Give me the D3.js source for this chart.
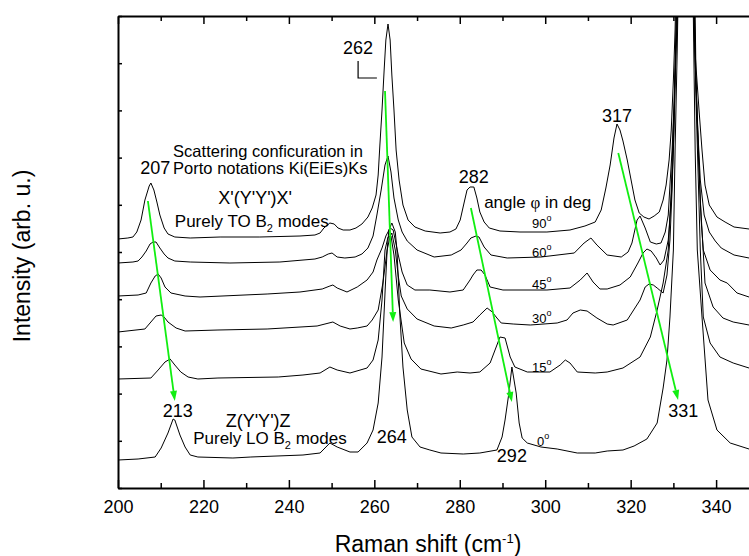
<!DOCTYPE html>
<html>
<head>
<meta charset="utf-8">
<script src="https://cdn.jsdelivr.net/npm/d3@7"></script>
<style>
body { margin: 0; background: #fff; }
text { font-family: "Liberation Sans", Arial, sans-serif; fill: #000; }
</style>
</head>
<body>
<script>
// Raman spectra, stacked, one per angle phi (deg). [shift cm-1, intensity arb. u. incl. offset]
const angles = ["90", "60", "45", "30", "15", "0"];

const spec90 = [[200,249],[202.3,250],[203.5,251],[204.4,256],[205.4,268],[206.3,288],[207.3,302],[207.7,305],[208.4,298],[209.1,286],[209.8,273],[210.8,260],[211.7,254],[213.3,251],[216.9,250],[223.9,251],[233.2,251],[242.6,252],[246.1,253],[247.3,255],[248.2,260],[249.6,265],[250.6,264],[251.5,260],[252.7,258],[254.3,258],[255.7,260],[257.1,264],[258.5,271],[259.5,280],[260.4,293],[260.9,313],[261.3,343],[261.8,378],[262.3,418],[262.7,448],[263.2,464],[263.7,448],[264.1,413],[264.6,378],[265.1,338],[265.8,308],[266.7,283],[267.9,268],[269.5,261],[271.9,257],[275.4,255],[277.7,256],[279.1,259],[280.1,268],[281,285],[281.7,298],[282.4,301],[283.3,301],[284,290],[284.7,276],[285.7,266],[286.9,260],[289.4,257],[294.1,256],[300.4,256],[305.8,258],[309.3,262],[311.7,266],[313.1,278],[314.2,300],[315.2,323],[316.1,350],[316.8,364],[317.5,358],[318.2,347],[319.2,328],[320.1,308],[321,288],[322,275],[323.1,271],[324.3,269],[325.5,272],[326.7,276],[327.6,288],[328.3,303],[329,328],[329.5,358],[330,408],[330.4,458],[331.3,638],[332.7,738],[334.1,638],[334.9,448],[335.3,421],[336,378],[336.7,338],[337.4,303],[338.4,283],[340.2,271],[342.1,266],[344.2,261],[347.7,259]];

const spec60 = [[200,225],[203.5,226],[204.7,227],[205.6,231],[206.6,237],[207.5,244],[208.2,246],[208.9,246],[209.8,240],[210.8,234],[211.7,230],[213.3,227],[216.9,226],[226.2,225],[237.9,226],[246.1,229],[247.8,231],[249.2,234],[250.1,235],[251.3,231],[253.1,230],[255.5,231],[257.1,234],[258.5,240],[259.7,252],[260.6,273],[261.6,298],[262.5,323],[263.2,332],[263.9,316],[264.6,290],[265.6,268],[266.5,256],[267.7,247],[270,238],[274,231],[278,233],[280.3,238],[281.7,245],[282.6,250],[283.8,252],[284.5,251],[285.7,241],[287.3,233],[291.1,230],[299,231],[306.8,235],[309.1,245],[310.7,250],[312.1,243],[314.5,233],[317.8,231],[319.4,236],[320.3,245],[321.5,268],[322.2,272],[323.4,260],[324.6,246],[326,244],[327.1,245],[328.1,256],[328.8,273],[329.2,303],[329.7,338],[330.2,388],[330.6,448],[331.5,638],[332.9,738],[334.3,638],[335.1,428],[335.6,368],[336.3,308],[337.2,273],[338.4,256],[339.8,247],[341.2,240],[344.2,233],[347.7,230]];

const spec45 = [[200,192],[204.7,193],[206.6,195],[207.7,205],[208.7,212],[209.4,214],[210.1,210],[211,201],[212.4,195],[215.7,192],[219.2,191],[234.9,194],[242.6,196],[247.8,199],[249.6,202],[250.3,203],[251.3,200],[253.6,196],[256,201],[258.3,208],[259.7,216],[260.6,228],[261.8,240],[262.7,252],[263.7,260],[264.4,258],[264.9,248],[265.6,233],[266.5,216],[267.7,203],[269.5,198],[273,198],[277.7,196],[280.8,198],[282.4,208],[283.1,213],[284,218],[285,218],[285.9,213],[287.1,201],[290.1,198],[300.4,198],[305.8,200],[308.2,208],[309.8,215],[311.2,206],[312.8,199],[314.5,199],[317.5,203],[319.9,211],[321.7,225],[322.9,235],[323.8,239],[324.8,237],[326,230],[326.9,223],[327.8,228],[328.8,248],[329.5,288],[330,338],[330.4,408],[330.9,472],[331.8,638],[332.9,738],[334.3,638],[335.1,428],[335.8,338],[336.5,268],[337,238],[338.6,218],[340.9,208],[342.6,205],[344.9,195],[347.7,191]];

const spec30 = [[200,156],[206.3,159],[207.7,166],[208.9,172],[210.1,173],[210.8,171],[211.7,166],[213.6,160],[215.7,157],[223.4,158],[234.9,159],[246.6,162],[250.3,166],[252,162],[254.3,159],[256,160],[258.3,162],[259.5,168],[260.9,178],[262,205],[263,238],[263.7,252],[264.1,255],[264.9,238],[265.6,212],[266.3,192],[267.7,179],[270,169],[274,162],[278,160],[280.8,163],[283.1,166],[284.7,173],[286.4,180],[287.6,176],[288.7,170],[289.7,165],[292.5,164],[296.5,163],[302.8,165],[305.1,168],[306.5,175],[308.2,178],[309.8,177],[312.1,170],[314.5,164],[315.9,163],[319.2,168],[322.2,188],[323.4,201],[324.3,204],[325.3,203],[326.2,200],[327.6,195],[328.5,213],[329.2,248],[329.7,298],[330.2,368],[330.6,438],[331.1,488],[332,638],[333.2,738],[334.6,638],[335.3,408],[336.3,288],[337.4,205],[339.3,181],[341.6,170],[344,166],[347.7,163]];

const spec15 = [[200,109],[207.7,110],[209.4,118],[211,126],[212.2,129],[213.3,123],[214.7,116],[216.4,111],[218.7,109],[223.4,110],[237.5,111],[243.3,113],[247.3,115],[249.6,121],[251.3,118],[254.3,115],[258.3,120],[259.7,128],[260.9,148],[261.8,188],[262.5,238],[263.2,251],[263.9,252],[264.6,233],[265.6,188],[267,145],[268.6,129],[270.9,119],[275.6,114],[279.4,116],[282.4,115],[284.7,116],[287.1,125],[288.7,143],[289.4,151],[290.6,150],[291.8,131],[292.9,121],[295.8,116],[301.1,116],[303.5,123],[304.7,128],[305.8,125],[307.5,116],[311.7,115],[314.5,116],[318.2,120],[322.2,131],[324.6,151],[326.2,178],[327.6,205],[328.8,238],[329.5,298],[330.2,388],[330.6,458],[331.3,588],[332.7,738],[334.3,588],[335.3,388],[336.3,238],[337,171],[338.6,145],[340.9,131],[344,125],[347.7,120]];

const spec0 = [[200,28],[204.7,29],[208.7,31],[210.1,40],[211.7,55],[212.9,69],[213.3,68],[214.5,53],[215.7,41],[216.9,33],[218.7,31],[226.9,30],[231.1,31],[243.3,33],[247.3,35],[249.6,45],[251.3,41],[254.3,36],[256.2,36],[258.3,45],[259.7,58],[260.9,85],[261.8,131],[262.5,195],[263,238],[263.4,258],[264.1,265],[264.9,256],[265.3,238],[266,171],[266.7,121],[267.7,78],[268.8,51],[270.7,41],[273,38],[275.6,35],[280.8,34],[284.7,35],[288.7,38],[289.9,51],[290.6,68],[291.5,95],[292.2,121],[293.2,95],[293.9,65],[294.6,50],[295.8,45],[299,41],[302.8,39],[307.5,35],[311.7,35],[314.5,37],[318.2,38],[320.8,42],[323.8,49],[326.2,65],[327.6,100],[328.5,128],[329.2,171],[330,238],[330.4,338],[330.9,438],[331.5,588],[332.9,738],[334.3,588],[335.1,338],[335.6,238],[336.7,171],[338.1,88],[340.2,58],[343.3,45],[347.7,39]];

const spectra = [spec90, spec60, spec45, spec30, spec15, spec0];

const xTicks = [200, 220, 240, 260, 280, 300, 320, 340];
const xMinorTicks = [210, 230, 250, 270, 290, 310, 330];
const yTicks = [0, 47.2, 94.4, 141.6, 188.8, 236, 283.2, 330.4, 377.6, 424.8, 472];

// peak positions: label, shift, intensity where the label sits
const peakLabels = [["207", 208.7, 314], ["262", 256.2, 434], ["282", 283.3, 305], ["317", 316.8, 366],
                    ["213", 214.0, 71], ["264", 264.1, 45], ["292", 292.2, 26], ["331", 332.3, 71]];
// angle label positions: shift, intensity
const angleLabelPos = [[296.9, 260], [296.9, 231], [296.9, 199], [296.9, 165], [296.9, 116], [298.1, 42]];
// green arrows: peak shift from 90 deg to 0 deg
const shiftArrows = [[207.0, 287, 213.3, 87], [262.5, 397, 264.4, 166], [282.6, 280, 292.2, 86], [317.1, 335, 331.1, 88]];
const bracket262 = [[256.2, 427], [256.2, 410], [260.6, 410]];

const width = 749, height = 556;
const x = d3.scaleLinear().domain([200, 347.7]).range([118, 749]);
const y = d3.scaleLinear().domain([0, 472]).range([488, 16]);

const svg = d3.select("body").append("svg")
	.attr("width", width)
	.attr("height", height);

svg.append("defs").append("clipPath").attr("id", "plotclip")
	.append("rect")
	.attr("x", x(200)).attr("y", y(472))
	.attr("width", x(347.7) - x(200)).attr("height", y(0) - y(472));

// spectra
let line = d3.line().x(d => x(d[0])).y(d => y(d[1]));
svg.append("g").attr("clip-path", "url(#plotclip)")
	.selectAll("path")
	.data(spectra)
	.join("path")
	.attr("d", line)
	.attr("fill", "none")
	.attr("stroke", "#000")
	.attr("stroke-width", 1);

// axes
function styleAxis(g) {
	g.select(".domain").attr("stroke-width", 2);
	g.selectAll(".tick line").attr("stroke-width", 1.5);
}
let bottom = svg.append("g").attr("transform", `translate(0,${y(0)})`)
	.call(d3.axisBottom(x).tickValues(xTicks).tickSize(-8).tickSizeOuter(0).tickPadding(12))
	.call(styleAxis);
bottom.selectAll("text").attr("font-size", 18);
svg.append("g").attr("transform", `translate(0,${y(0)})`)
	.call(d3.axisBottom(x).tickValues(xMinorTicks).tickSize(-5).tickSizeOuter(0).tickFormat(""))
	.call(g => g.select(".domain").remove())
	.call(styleAxis);

svg.append("g").attr("transform", `translate(0,${y(472)})`)
	.call(d3.axisTop(x).tickValues(xTicks).tickSize(-8).tickSizeOuter(0).tickFormat(""))
	.call(styleAxis);
svg.append("g").attr("transform", `translate(0,${y(472)})`)
	.call(d3.axisTop(x).tickValues(xMinorTicks).tickSize(-5).tickSizeOuter(0).tickFormat(""))
	.call(g => g.select(".domain").remove())
	.call(styleAxis);

svg.append("g").attr("transform", `translate(${x(200)},0)`)
	.call(d3.axisLeft(y).tickValues(yTicks).tickSize(-4).tickSizeOuter(0).tickFormat(""))
	.call(styleAxis);

// axis titles
let xt = svg.append("text").attr("x", 428).attr("y", 552)
	.attr("text-anchor", "middle").attr("font-size", 23)
	.text("Raman shift (cm");
xt.append("tspan").attr("font-size", 13).attr("dy", -9).text("-1");
xt.append("tspan").attr("dy", 9).text(")");

svg.append("text")
	.attr("transform", "translate(30,256) rotate(-90)")
	.attr("text-anchor", "middle").attr("font-size", 23)
	.text("Intensity (arb. u.)");

// green arrows
let arrows = svg.append("g");
shiftArrows.forEach(a => {
	let x1 = x(a[0]), y1 = y(a[1]), x2 = x(a[2]), y2 = y(a[3]);
	let ang = Math.atan2(y2 - y1, x2 - x1);
	let len = 10, hw = 3.5;
	let bx = x2 - len * Math.cos(ang), by = y2 - len * Math.sin(ang);
	arrows.append("line")
		.attr("x1", x1).attr("y1", y1).attr("x2", bx).attr("y2", by)
		.attr("stroke", "#11ee11").attr("stroke-width", 1.8);
	arrows.append("path")
		.attr("d", `M${x2},${y2}L${bx - hw * Math.sin(ang)},${by + hw * Math.cos(ang)}L${bx + hw * Math.sin(ang)},${by - hw * Math.cos(ang)}Z`)
		.attr("fill", "#11ee11");
});

// bracket at 262
svg.append("path")
	.datum(bracket262)
	.attr("d", line)
	.attr("fill", "none").attr("stroke", "#000").attr("stroke-width", 1.2);

// peak labels
svg.selectAll(".peak")
	.data(peakLabels)
	.join("text")
	.attr("class", "peak")
	.attr("x", d => x(d[1])).attr("y", d => y(d[2]))
	.attr("text-anchor", "middle").attr("font-size", 18)
	.text(d => d[0]);

// angle labels
svg.selectAll(".ang")
	.data(angles)
	.join("text")
	.attr("class", "ang")
	.attr("x", (d, i) => x(angleLabelPos[i][0])).attr("y", (d, i) => y(angleLabelPos[i][1]))
	.attr("font-size", 13)
	.text(d => d)
	.append("tspan").attr("font-size", 9).attr("dy", -7).text("o");

// configuration notes
function note(xv, v, size, anchor) {
	return svg.append("text").attr("x", x(xv)).attr("y", y(v))
		.attr("font-size", size).attr("text-anchor", anchor);
}
note(212.9, 331, 16.5, "start").text("Scattering conficuration in");
note(212.9, 314, 16.5, "start").text("Porto notations Ki(EiEs)Ks");
note(232.1, 284, 18, "middle").text("X'(Y'Y')X'");
let to = note(213.3, 261, 17, "start").text("Purely TO B");
to.append("tspan").attr("font-size", 11).attr("dy", 5).text("2");
to.append("tspan").attr("dy", -5).text(" modes");

let ang = note(285.7, 280, 17, "start").text("angle ");
ang.append("tspan").style("font-family", "'Liberation Serif', serif").text("φ");
ang.append("tspan").text(" in deg");

note(232.8, 61, 18, "middle").text("Z(Y'Y')Z");
let lo = note(217.6, 44, 17, "start").text("Purely LO B");
lo.append("tspan").attr("font-size", 11).attr("dy", 5).text("2");
lo.append("tspan").attr("dy", -5).text(" modes");
</script>
</body>
</html>
